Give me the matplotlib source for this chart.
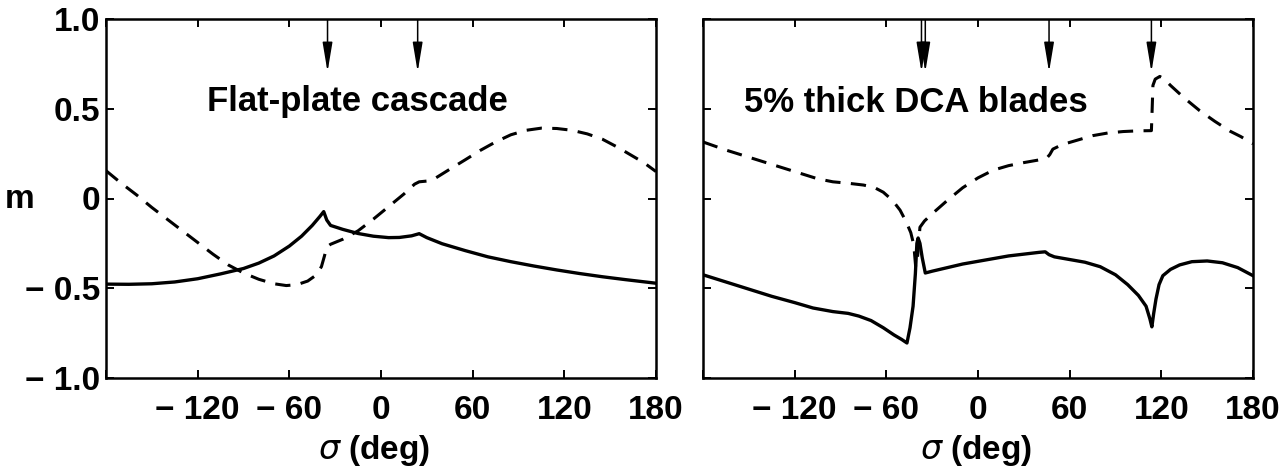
import numpy as np
import matplotlib
matplotlib.use("Agg")
import matplotlib.pyplot as plt
from matplotlib.patches import FancyArrowPatch

plt.rcParams['font.family'] = ['Liberation Sans', 'DejaVu Sans']
plt.rcParams['font.weight'] = 'bold'
plt.rcParams['mathtext.fontset'] = 'custom'
plt.rcParams['mathtext.it'] = 'DejaVu Sans:italic:normal'
plt.rcParams['mathtext.rm'] = 'Liberation Sans:bold'

# ---- flat-plate cascade: (sigma deg, m)
flat_solid_sigma = [-180, -165, -150, -135, -120, -105, -90, -80, -70, -60, -52, -45, -40, -37.5,
                    -35.5, -33, -25, -15, -5, 5, 12, 20, 25, 30, 40, 55, 70, 85, 100, 115, 130,
                    145, 160, 180]
flat_solid_m = [-0.477, -0.478, -0.475, -0.465, -0.447, -0.42, -0.39, -0.36, -0.32, -0.265, -0.21,
                -0.15, -0.10, -0.073, -0.12, -0.15, -0.172, -0.195, -0.21, -0.218, -0.217, -0.208,
                -0.196, -0.218, -0.252, -0.29, -0.325, -0.352, -0.376, -0.398, -0.418, -0.436,
                -0.452, -0.472]
flat_dash_sigma = [-180, -170, -160, -150, -140, -130, -120, -110, -100, -90, -80, -70, -62, -55,
                   -48, -43, -39, -37, -35.5, -33, -25, -15, -5, 5, 15, 22, 25, 30, 35, 45, 55,
                   65, 75, 85, 95, 105, 115, 125, 135, 145, 155, 165, 172, 180]
flat_dash_m = [0.155, 0.085, 0.02, -0.05, -0.115, -0.18, -0.245, -0.31, -0.37, -0.415, -0.45,
               -0.475, -0.485, -0.48, -0.46, -0.43, -0.38, -0.32, -0.27, -0.255, -0.227, -0.18,
               -0.115, -0.045, 0.025, 0.08, 0.093, 0.097, 0.11, 0.163, 0.215, 0.268, 0.315,
               0.355, 0.38, 0.392, 0.39, 0.38, 0.36, 0.33, 0.285, 0.235, 0.2, 0.15]
flat_arrows = [-35, 24]

# ---- 5% thick DCA blades
dca_solid_sigma = [-180, -165, -150, -135, -120, -108, -95, -85, -78, -70, -62, -55, -50, -46.5,
                   -44.5, -42.5, -41, -40, -39.2, -38, -36.5, -34.5, -30, -20, -10, 0, 10, 20,
                   30, 40, 44, 46.5, 50, 60, 70, 80, 90, 98, 105, 110, 112.5, 113.8, 115, 116.5,
                   118.5, 121, 126, 132, 140, 150, 160, 170, 180]
dca_solid_m = [-0.425, -0.465, -0.505, -0.545, -0.58, -0.61, -0.63, -0.64, -0.655, -0.68, -0.72,
               -0.76, -0.785, -0.805, -0.72, -0.6, -0.42, -0.25, -0.22, -0.25, -0.33, -0.415,
               -0.405, -0.385, -0.365, -0.35, -0.335, -0.32, -0.31, -0.30, -0.297, -0.313,
               -0.325, -0.34, -0.355, -0.38, -0.425, -0.48, -0.54, -0.60, -0.67, -0.715, -0.64,
               -0.56, -0.48, -0.43, -0.395, -0.37, -0.352, -0.348, -0.358, -0.385, -0.43]
dca_dash_sigma = [-180, -165, -150, -135, -120, -105, -95, -85, -75, -68, -62, -56, -51, -47, -44,
                  -42, -40.8, -39.5, -38, -35, -30, -20, -10, 0, 10, 20, 30, 40, 45, 47, 49, 55,
                  65, 75, 85, 95, 105, 113.5, 114, 114.5, 116, 119, 122, 126, 135, 145, 155, 165,
                  172, 180]
dca_dash_m = [0.315, 0.27, 0.23, 0.19, 0.15, 0.11, 0.093, 0.085, 0.075, 0.062, 0.035, -0.01,
              -0.065, -0.13, -0.19, -0.26, -0.38, -0.32, -0.16, -0.125, -0.085, -0.01, 0.06,
              0.115, 0.158, 0.183, 0.20, 0.215, 0.225, 0.245, 0.275, 0.30, 0.325, 0.35, 0.365,
              0.373, 0.377, 0.378, 0.5, 0.63, 0.665, 0.68, 0.665, 0.63, 0.56, 0.49, 0.43, 0.375,
              0.345, 0.305]
dca_arrows = [-37, -34.5, 46.5, 113.5]

xticks = [-180, -120, -60, 0, 60, 120, 180]
xticklabels = ['', '\u2212 120', '\u2212 60', '0', '60', '120', '180']
yticks = [-1.0, -0.5, 0, 0.5, 1.0]
yticklabels = ['\u2212 1.0', '\u2212 0.5', '0', '0.5', '1.0']

fig = plt.figure(figsize=(12.88, 4.72), dpi=100)
axL = fig.add_axes([106/1288, 1-378/472, 550/1288, 359/472])
axR = fig.add_axes([703/1288, 1-378/472, 550/1288, 359/472])


def style(ax, ylabels):
    ax.set_xlim(-180, 180)
    ax.set_ylim(-1.0, 1.0)
    ax.set_xticks(xticks)
    ax.set_xticklabels(xticklabels)
    ax.set_yticks(yticks)
    ax.set_yticklabels(yticklabels if ylabels else [])
    ax.tick_params(direction='in', top=True, right=True, length=6, width=1.4,
                   labelsize=24, color='black')
    ax.tick_params(axis='x', pad=12)
    ax.tick_params(axis='y', pad=4)
    for sp in ax.spines.values():
        sp.set_linewidth(1.8)


def arrows(ax, xs):
    for x in xs:
        ax.add_patch(FancyArrowPatch((x, 1.0), (x, 0.705), arrowstyle='-|>,head_length=1.8,head_width=0.3',
                                     mutation_scale=10, lw=1.1, color='black', shrinkA=0, shrinkB=0))


axL.plot(flat_solid_sigma, flat_solid_m, color='black', lw=2.4)
axL.plot(flat_dash_sigma, flat_dash_m, color='black', lw=2.2, dashes=(5, 3.4))
style(axL, True)
arrows(axL, flat_arrows)
axL.text(-114, 0.49, 'Flat-plate cascade', fontsize=25, ha='left', va='baseline')

axR.plot(dca_solid_sigma, dca_solid_m, color='black', lw=2.4)
axR.plot(dca_dash_sigma, dca_dash_m, color='black', lw=2.2, dashes=(5, 3.4))
style(axR, False)
arrows(axR, dca_arrows)
axR.text(-153, 0.48, '5% thick DCA blades', fontsize=25, ha='left', va='baseline')

fig.text(20/1288, 1-200/472, 'm', fontsize=24, ha='center', va='center')
fig.text(374/1288, 1-450/472, r'$\sigma$ (deg)', fontsize=24, ha='center', va='center')
fig.text(976/1288, 1-450/472, r'$\sigma$ (deg)', fontsize=24, ha='center', va='center')

fig.savefig('out.png', dpi=100)
